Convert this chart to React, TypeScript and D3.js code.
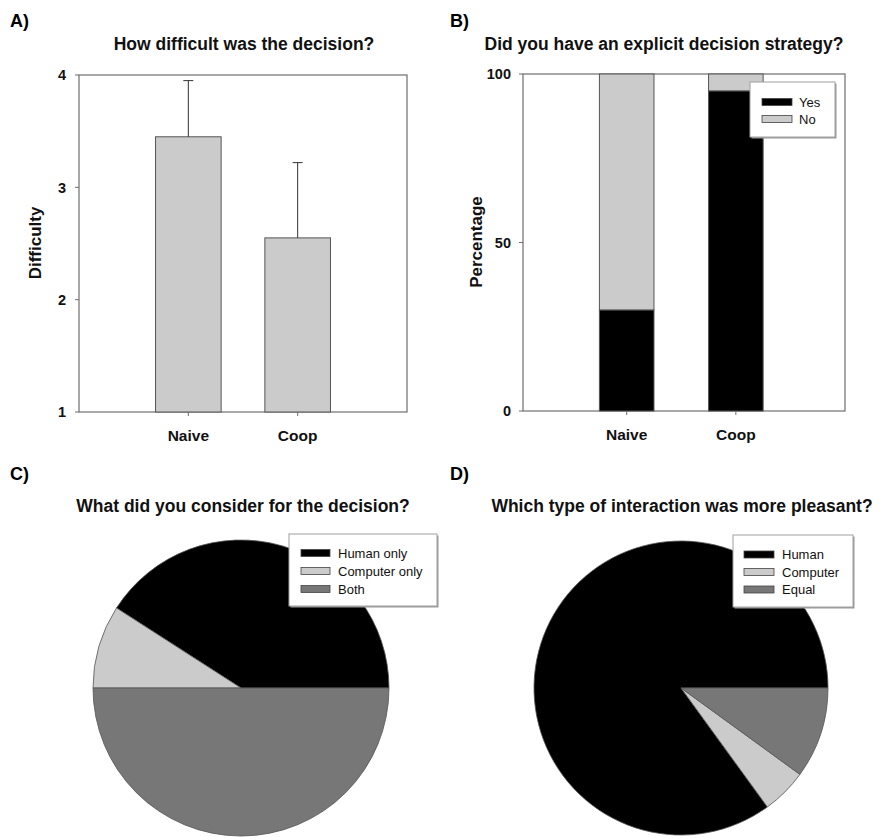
import React from "react";
import * as d3 from "d3";

// Panel A data
const diffCategories = ["Naive", "Coop"];
const diffMeans = [3.45, 2.55];
const diffErrors = [0.5, 0.67];
const diffTicks = [1, 2, 3, 4];

// Panel B data
const stratCategories = ["Naive", "Coop"];
const stratYes = [30, 95];
const stratNo = [70, 5];
const stratTicks = [0, 50, 100];
const stratSeries = ["Yes", "No"];

// Panel C data
const considerLabels = ["Human only", "Computer only", "Both"];
const considerValues = [9, 2, 11];

// Panel D data
const pleasantLabels = ["Human", "Computer", "Equal"];
const pleasantValues = [17, 1, 2];

const BLACK = "#000000";
const LIGHT = "#cbcbcb";
const DARK = "#777777";
const FRAME = "#6e6e6e";
const FONT = "'Liberation Sans', Arial, sans-serif";

function Legend({ x, y, w, h, items, colors, swX, swW, textX, rowY, fontSize }: any) {
  return (
    <g>
      <rect x={x + 1.5} y={y + 1.5} width={w} height={h} fill="#9a9a9a" />
      <rect x={x} y={y} width={w} height={h} fill="#ffffff" stroke="#a0a0a0" strokeWidth={1} />
      {items.map((it: string, i: number) => (
        <g key={it}>
          <rect x={swX} y={rowY[i] - 3.5} width={swW} height={7} fill={colors[i]} stroke="#444" strokeWidth={0.8} />
          <text x={textX} y={rowY[i]} dy="0.35em" fontSize={fontSize} fontFamily={FONT} fill="#111">{it}</text>
        </g>
      ))}
    </g>
  );
}

function PanelA() {
  const x = d3.scaleLinear().domain([0, 3]).range([79, 407]);
  const y = d3.scaleLinear().domain([1, 4]).range([412, 75]);
  const bw = x(0.6) - x(0);
  return (
    <g>
      <text x={10} y={27} fontSize={18} fontWeight="bold" fontFamily={FONT}>A)</text>
      <text x={244} y={50} textAnchor="middle" fontSize={17.5} fontWeight="bold" fontFamily={FONT} fill="#111">How difficult was the decision?</text>
      <rect x={x(0)} y={y(4)} width={x(3) - x(0)} height={y(1) - y(4)} fill="none" stroke={FRAME} strokeWidth={1.2} />
      {diffCategories.map((c, i) => {
        const cx = x(i + 1);
        const top = y(diffMeans[i]);
        const et = y(diffMeans[i] + diffErrors[i]);
        return (
          <g key={c}>
            <rect x={cx - bw / 2} y={top} width={bw} height={y(1) - top} fill={LIGHT} stroke="#555" strokeWidth={1} />
            <line x1={cx} x2={cx} y1={top} y2={et} stroke="#333" strokeWidth={1} />
            <line x1={cx - 5} x2={cx + 5} y1={et} y2={et} stroke="#333" strokeWidth={1} />
            <line x1={cx} x2={cx} y1={y(1)} y2={y(1) + 4} stroke={FRAME} strokeWidth={1} />
            <text x={cx} y={441} textAnchor="middle" fontSize={15.5} fontWeight="bold" fontFamily={FONT} fill="#111">{c}</text>
          </g>
        );
      })}
      {diffTicks.map((t) => (
        <g key={t}>
          <line x1={x(0) - 4} x2={x(0)} y1={y(t)} y2={y(t)} stroke={FRAME} strokeWidth={1} />
          <text x={66} y={y(t)} dy="0.36em" textAnchor="end" fontSize={14.5} fontWeight="bold" fontFamily={FONT} fill="#111">{t}</text>
        </g>
      ))}
      <text transform={`translate(${41},${243}) rotate(-90)`} textAnchor="middle" fontSize={17} fontWeight="bold" fontFamily={FONT} fill="#111">Difficulty</text>
    </g>
  );
}

function PanelB() {
  const x = d3.scaleLinear().domain([0.05, 3]).range([523, 845]);
  const y = d3.scaleLinear().domain([0, 100]).range([411, 74]);
  const bw = x(0.5) - x(0);
  const rows = stratCategories.map((c, i) => ({ c, Yes: stratYes[i], No: stratNo[i] }));
  const stacked = d3.stack<any>().keys(stratSeries)(rows);
  const colors = [BLACK, LIGHT];
  return (
    <g>
      <text x={450} y={27} fontSize={18} fontWeight="bold" fontFamily={FONT}>B)</text>
      <text x={664} y={50} textAnchor="middle" fontSize={17.5} fontWeight="bold" fontFamily={FONT} fill="#111">Did you have an explicit decision strategy?</text>
      <rect x={x.range()[0]} y={y(100)} width={x.range()[1] - x.range()[0]} height={y(0) - y(100)} fill="none" stroke={FRAME} strokeWidth={1.2} />
      {stacked.map((s, si) =>
        s.map((d: any, i: number) => {
          const cx = x(i + 1);
          return (
            <rect key={`${si}-${i}`} x={cx - bw / 2} y={y(d[1])} width={bw} height={y(d[0]) - y(d[1])} fill={colors[si]} stroke="#555" strokeWidth={1} />
          );
        })
      )}
      {stratCategories.map((c, i) => (
        <g key={c}>
          <line x1={x(i + 1)} x2={x(i + 1)} y1={y(0)} y2={y(0) + 4} stroke={FRAME} strokeWidth={1} />
          <text x={x(i + 1)} y={440} textAnchor="middle" fontSize={15.5} fontWeight="bold" fontFamily={FONT} fill="#111">{c}</text>
        </g>
      ))}
      {stratTicks.map((t) => (
        <g key={t}>
          <line x1={x.range()[0] - 4} x2={x.range()[0]} y1={y(t)} y2={y(t)} stroke={FRAME} strokeWidth={1} />
          <text x={511} y={y(t)} dy="0.36em" textAnchor="end" fontSize={14.5} fontWeight="bold" fontFamily={FONT} fill="#111">{t}</text>
        </g>
      ))}
      <text transform={`translate(${482},${242}) rotate(-90)`} textAnchor="middle" fontSize={17} fontWeight="bold" fontFamily={FONT} fill="#111">Percentage</text>
      <Legend x={750} y={82} w={85} h={55} items={stratSeries} colors={colors} swX={762} swW={30} textX={799} rowY={[102, 119]} fontSize={13} />
    </g>
  );
}

function Pie({ cx, cy, r, values, colors }: any) {
  const pie = d3.pie<number>().sort(null).startAngle(Math.PI / 2).endAngle(Math.PI / 2 - 2 * Math.PI);
  const arc = d3.arc<any>().innerRadius(0).outerRadius(r);
  const arcs = pie(values);
  return (
    <g transform={`translate(${cx},${cy})`}>
      {arcs.map((a, i) => (
        <path key={i} d={arc(a) || ""} fill={colors[i]} stroke="#555" strokeWidth={0.8} />
      ))}
    </g>
  );
}

function PanelC() {
  const colors = [BLACK, LIGHT, DARK];
  return (
    <g>
      <text x={10} y={480} fontSize={18} fontWeight="bold" fontFamily={FONT}>C)</text>
      <text x={243} y={512} textAnchor="middle" fontSize={17.5} fontWeight="bold" fontFamily={FONT} fill="#111">What did you consider for the decision?</text>
      <Pie cx={241} cy={688} r={148} values={considerValues} colors={colors} />
      <Legend x={289} y={534} w={148} h={72} items={considerLabels} colors={colors} swX={301} swW={29} textX={338} rowY={[553, 571, 589]} fontSize={13} />
    </g>
  );
}

function PanelD() {
  const colors = [BLACK, LIGHT, DARK];
  return (
    <g>
      <text x={450} y={480} fontSize={18} fontWeight="bold" fontFamily={FONT}>D)</text>
      <text x={682} y={512} textAnchor="middle" fontSize={17.5} fontWeight="bold" fontFamily={FONT} fill="#111">Which type of interaction was more pleasant?</text>
      <Pie cx={681} cy={688} r={147} values={pleasantValues} colors={colors} />
      <Legend x={733} y={535} w={120} h={72} items={pleasantLabels} colors={colors} swX={744} swW={30} textX={782} rowY={[554.5, 572, 589.5]} fontSize={13} />
    </g>
  );
}

export default function App() {
  return (
    <svg width={881} height={838} viewBox="0 0 881 838" style={{ position: "absolute", left: 0, top: 0, background: "#fff" }}>
      <rect width={881} height={838} fill="#fff" />
      <PanelA />
      <PanelB />
      <PanelC />
      <PanelD />
    </svg>
  );
}
